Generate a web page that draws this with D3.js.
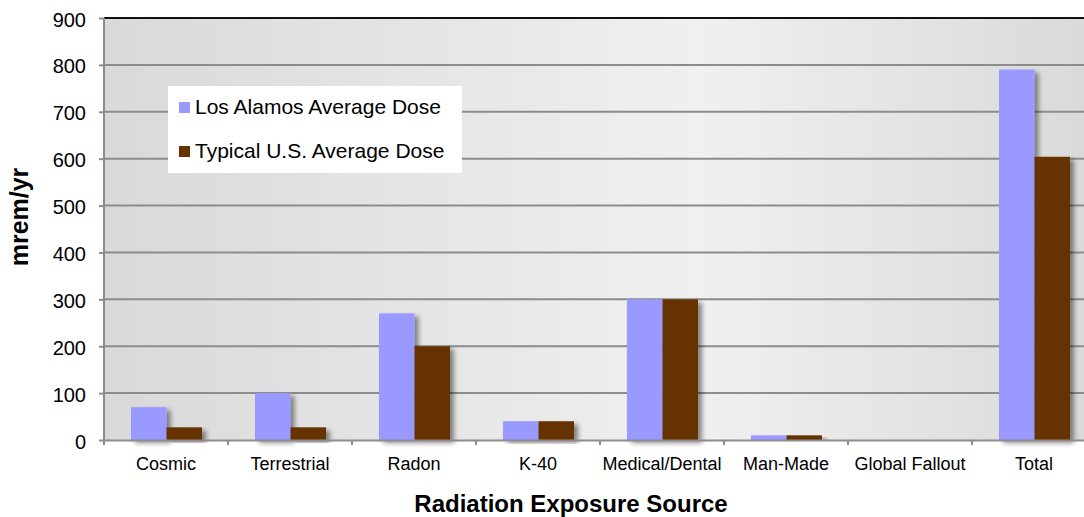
<!DOCTYPE html>
<html>
<head>
<meta charset="utf-8">
<script src="https://cdn.jsdelivr.net/npm/d3@7"></script>
<style>
  body { margin: 0; background: #fff; }
  svg { font-family: Arial, "Liberation Sans", sans-serif; }
</style>
</head>
<body>
<div id="chart"></div>
<script>
// data
const categories = ["Cosmic", "Terrestrial", "Radon", "K-40", "Medical/Dental", "Man-Made", "Global Fallout", "Total"];
const seriesNames = ["Los Alamos Average Dose", "Typical U.S. Average Dose"];
const losAlamos = [70, 100, 270, 40, 300, 10, 0, 790];
const typicalUS = [27, 27, 200, 40, 300, 10, 0, 604];
const yTicks = [0, 100, 200, 300, 400, 500, 600, 700, 800, 900];
const colors = ["#9999ff", "#663300"];

const W = 1084, H = 517;
const margin = { top: 18, left: 104 };
const plotW = 992, plotH = 422;

const svg = d3.select("#chart").append("svg")
  .attr("width", W).attr("height", H);

const defs = svg.append("defs");
const grad = defs.append("linearGradient").attr("id", "bg")
  .attr("x1", "0%").attr("x2", "100%").attr("y1", "0%").attr("y2", "0%");
grad.append("stop").attr("offset", "0%").attr("stop-color", "#d9d9d9");
grad.append("stop").attr("offset", "60%").attr("stop-color", "#f0f0f0");
grad.append("stop").attr("offset", "100%").attr("stop-color", "#d9d9d9");

const shadow = defs.append("filter").attr("id", "shadow")
  .attr("x", "-20%").attr("y", "-20%").attr("width", "160%").attr("height", "140%");
shadow.append("feGaussianBlur").attr("in", "SourceAlpha").attr("stdDeviation", 2.5).attr("result", "blur");
shadow.append("feOffset").attr("dx", 4).attr("dy", 3).attr("result", "off");
shadow.append("feComponentTransfer").append("feFuncA").attr("type", "linear").attr("slope", 0.45);
const merge = shadow.append("feMerge");
merge.append("feMergeNode");
merge.append("feMergeNode").attr("in", "SourceGraphic");

const g = svg.append("g").attr("transform", `translate(${margin.left},${margin.top})`);

// scales
const x = d3.scaleBand().domain(categories).range([0, plotW]).padding(0);
const x1 = d3.scaleBand().domain([0, 1]).range([27, 98]).padding(0);
const y = d3.scaleLinear().domain([0, 900]).range([plotH, 0]);

// plot background
g.append("rect").attr("width", plotW).attr("height", plotH).attr("fill", "url(#bg)");

// gridlines
g.selectAll(".grid").data(yTicks.filter(d => d > 0 && d < 900)).enter()
  .append("line")
  .attr("x1", 0).attr("x2", plotW)
  .attr("y1", d => y(d)).attr("y2", d => y(d))
  .attr("stroke", "#8c8c8c").attr("stroke-width", 2);

// top border
g.append("line").attr("x1", 0).attr("x2", plotW).attr("y1", 0).attr("y2", 0)
  .attr("stroke", "#111").attr("stroke-width", 2);

// bars
const rows = categories.map((c, i) => ({ c, vals: [losAlamos[i], typicalUS[i]] }));
const groups = g.selectAll(".grp").data(rows).enter().append("g")
  .attr("transform", d => `translate(${x(d.c)},0)`);
groups.selectAll("rect").data(d => d.vals.map((v, k) => ({ v, k }))).enter()
  .append("rect")
  .attr("x", d => x1(d.k))
  .attr("width", x1.bandwidth())
  .attr("y", d => y(d.v))
  .attr("height", d => y(0) - y(d.v))
  .attr("fill", d => colors[d.k])
  .attr("filter", d => d.v > 0 ? "url(#shadow)" : null);

// y axis
const yAxis = g.append("g")
  .call(d3.axisLeft(y).tickValues(yTicks).tickSize(5).tickPadding(8).tickFormat(d3.format("d")));
yAxis.select(".domain").attr("stroke", "#8c8c8c").attr("stroke-width", 2).attr("d", `M0,${plotH + 5}V0`);
yAxis.selectAll(".tick line").attr("stroke", "#8c8c8c").attr("stroke-width", 2);
yAxis.selectAll(".tick text").attr("font-size", 20).attr("fill", "#000").attr("dx", -5).attr("dy", "0.4em");

// x axis
const xAxis = g.append("g").attr("transform", `translate(0,${plotH})`)
  .call(d3.axisBottom(x).tickSize(0).tickPadding(17));
xAxis.select(".domain").attr("stroke", "#8c8c8c").attr("stroke-width", 2);
xAxis.selectAll(".tick text").attr("font-size", 18).attr("fill", "#000");
g.selectAll(".xtick").data(categories.concat(["end"])).enter().append("line")
  .attr("x1", (d, i) => i * x.step()).attr("x2", (d, i) => i * x.step())
  .attr("y1", plotH).attr("y2", plotH + 5)
  .attr("stroke", "#8c8c8c").attr("stroke-width", 2);

// axis titles
svg.append("text")
  .attr("transform", "translate(28,217) rotate(-90)")
  .attr("text-anchor", "middle")
  .attr("font-size", 25).attr("font-weight", "bold")
  .text("mrem/yr");
svg.append("text")
  .attr("x", 571).attr("y", 512)
  .attr("text-anchor", "middle")
  .attr("font-size", 24).attr("font-weight", "bold")
  .text("Radiation Exposure Source");

// legend
const legend = svg.append("g").attr("transform", "translate(168,86)");
legend.append("rect").attr("width", 294).attr("height", 87).attr("fill", "#fff");
seriesNames.forEach((name, i) => {
  const row = legend.append("g").attr("transform", `translate(11,${21 + i * 44})`);
  row.append("rect").attr("x", 0).attr("y", -5).attr("width", 11).attr("height", 11).attr("fill", colors[i]);
  row.append("text").attr("x", 16).attr("y", 0).attr("dy", "0.35em")
    .attr("font-size", 21).attr("fill", "#000").text(name);
});
</script>
</body>
</html>
